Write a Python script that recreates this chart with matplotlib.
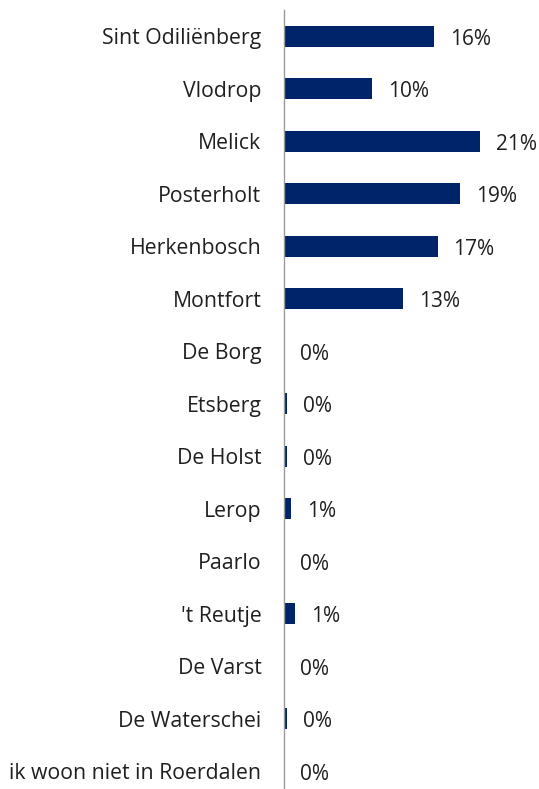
import matplotlib.pyplot as plt

plt.rcParams['font.family'] = ['Open Sans', 'DejaVu Sans']

categories = ["Sint Odiliënberg", "Vlodrop", "Melick", "Posterholt", "Herkenbosch",
              "Montfort", "De Borg", "Etsberg", "De Holst", "Lerop", "Paarlo",
              "'t Reutje", "De Varst", "De Waterschei", "ik woon niet in Roerdalen"]
values = [16.06, 9.47, 21.0, 18.9, 16.45, 12.75, 0.0, 0.39, 0.39, 0.81, 0.0, 1.2, 0.0, 0.39, 0.0]
labels = ["16%", "10%", "21%", "19%", "17%", "13%", "0%", "0%", "0%", "1%", "0%", "1%", "0%", "0%", "0%"]

barColour = '#002469'
textColour = '#1f1f1f'

fig = plt.figure(figsize=(5.39, 7.89), dpi=100)
W, H = 539, 789
left, top = 283.7, 10
rowPx = 52.5
ax = fig.add_axes([left / W, (H - top - rowPx * 15) / H, (W - left) / W, rowPx * 15 / H])

y = range(len(categories))
ax.barh(y, values, height=0.4, color=barColour)
ax.set_ylim(14.5, -0.5)
ax.set_xlim(0, 27.3)

for i, (v, lab) in enumerate(zip(values, labels)):
    ax.annotate(lab, (v, i), xytext=(11.5, -2), textcoords='offset points',
                va='center', ha='left', fontsize=15, color=textColour)

ax.set_yticks(list(y))
ax.set_yticklabels(categories, fontsize=15.3, color=textColour)
ax.tick_params(axis='y', length=0, pad=16)
ax.set_xticks([])
ax.spines[['right', 'top', 'bottom']].set_visible(False)
ax.spines['left'].set_color('#999999')
ax.spines['left'].set_linewidth(1)

plt.savefig("out.png", dpi=100)
